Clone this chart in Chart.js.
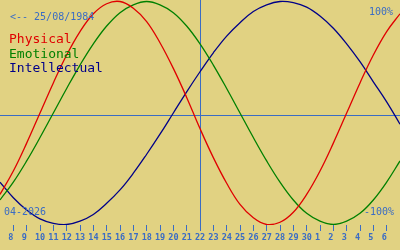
<!DOCTYPE html>
<html>
<head>
<meta charset="utf-8">
<script src="https://cdn.jsdelivr.net/npm/chart.js@4/dist/chart.umd.min.js"></script>
<style>
  html, body { margin: 0; padding: 0; background: #e1d282; }
  #wrap { width: 400px; height: 250px; position: relative; }
</style>
</head>
<body>
<div id="wrap"><canvas id="bio" width="400" height="250"></canvas></div>
<script>
// Days shown along the bottom: 7 April .. 7 May 2026
const days = [7, 8, 9, 10, 11, 12, 13, 14, 15, 16, 17, 18, 19, 20, 21, 22, 23, 24, 25, 26, 27, 28, 29, 30, 1, 2, 3, 4, 5, 6, 7];
const todayIndex = 15; // 22/04

// Cycle values per day (-1 .. 1)
const physical = [-0.73, -0.52, -0.27, 0, 0.27, 0.52, 0.73, 0.89, 0.98, 1.00, 0.94, 0.82, 0.63, 0.40, 0.14, -0.14,
  -0.40, -0.63, -0.82, -0.94, -1.00, -0.98, -0.89, -0.73, -0.52, -0.27, 0, 0.27, 0.52, 0.73, 0.89];
const emotional = [-0.78, -0.62, -0.43, -0.22, 0, 0.22, 0.43, 0.62, 0.78, 0.90, 0.97, 1.00, 0.97, 0.90, 0.78, 0.62,
  0.43, 0.22, 0, -0.22, -0.43, -0.62, -0.78, -0.90, -0.97, -1.00, -0.97, -0.90, -0.78, -0.62, -0.43];
const intellectual = [-0.62, -0.76, -0.87, -0.95, -0.99, -1.00, -0.97, -0.91, -0.81, -0.69, -0.54, -0.37, -0.19, 0, 0.19, 0.37,
  0.54, 0.69, 0.81, 0.91, 0.97, 1.00, 0.99, 0.95, 0.87, 0.76, 0.62, 0.46, 0.28, 0.10, -0.10];

const seriesNames = ['Physical', 'Emotional', 'Intellectual'];
const seriesColors = ['#e00000', '#008000', '#000088'];
const birthLabel = '<-- 25/08/1984';
const monthLabel = '04-2026';
const topLabel = '100%';
const bottomLabel = '-100%';

const yMin = -1.0045, yMax = 1.0135;
const baseline = -0.02;
const blue = '#3a6cc4';
const mono = '"DejaVu Sans Mono", "Liberation Mono", monospace';

const toPoints = (arr) => arr.map((v, i) => ({ x: i, y: v }));

// overlay texts: birth date, legend, percent marks, month
const textPlugin = {
  id: 'texts',
  afterDraw(chart) {
    const c = chart.ctx;
    c.save();
    c.textAlign = 'left';
    c.textBaseline = 'alphabetic';
    c.font = '10px ' + mono;
    c.fillStyle = blue;
    c.fillText(birthLabel, 10, 20);
    c.fillText(monthLabel, 4, 215);
    c.fillText(topLabel, 369, 15);
    c.fillText(bottomLabel, 364, 215);
    c.font = '13px ' + mono;
    seriesNames.forEach((name, k) => {
      c.fillStyle = seriesColors[k];
      c.fillText(name, 9, 43 + k * 14.5);
    });
    c.restore();
  }
};

const lineDefaults = { pointRadius: 0, borderWidth: 1.3, tension: 0.4, fill: false };

new Chart(document.getElementById('bio'), {
  type: 'line',
  data: {
    datasets: [
      Object.assign({ label: seriesNames[0], data: toPoints(physical), borderColor: seriesColors[0] }, lineDefaults),
      Object.assign({ label: seriesNames[1], data: toPoints(emotional), borderColor: seriesColors[1] }, lineDefaults),
      Object.assign({ label: seriesNames[2], data: toPoints(intellectual), borderColor: seriesColors[2] }, lineDefaults),
    ],
  },
  options: {
    responsive: false,
    animation: false,
    layout: { padding: 0 },
    plugins: { legend: { display: false }, tooltip: { enabled: false } },
    scales: {
      x: {
        type: 'linear',
        min: 0,
        max: days.length - 1,
        afterBuildTicks(scale) {
          scale.ticks = days.slice(1, -1).map((d, i) => ({ value: i + 1 }));
        },
        afterFit(scale) { scale.height = 25; },
        ticks: {
          autoSkip: false,
          maxRotation: 0,
          align: 'start',
          labelOffset: -5,
          padding: 2,
          color: blue,
          font: { family: mono, size: 8.5, weight: 'bold' },
          callback: (v) => String(days[v]),
        },
        grid: {
          drawOnChartArea: true,
          drawTicks: true,
          tickLength: 6,
          color: (ctx) => (ctx.tick && ctx.tick.value === todayIndex ? blue : 'rgba(0,0,0,0)'),
          tickColor: blue,
          lineWidth: 1,
        },
        border: { display: false },
      },
      y: {
        display: true,
        min: yMin,
        max: yMax,
        afterBuildTicks(scale) { scale.ticks = [{ value: baseline }]; },
        afterFit(scale) { scale.width = 0; },
        ticks: { display: false },
        grid: { drawTicks: false, color: blue, lineWidth: 1 },
        border: { display: false },
      },
    },
  },
  plugins: [textPlugin],
});
</script>
</body>
</html>
